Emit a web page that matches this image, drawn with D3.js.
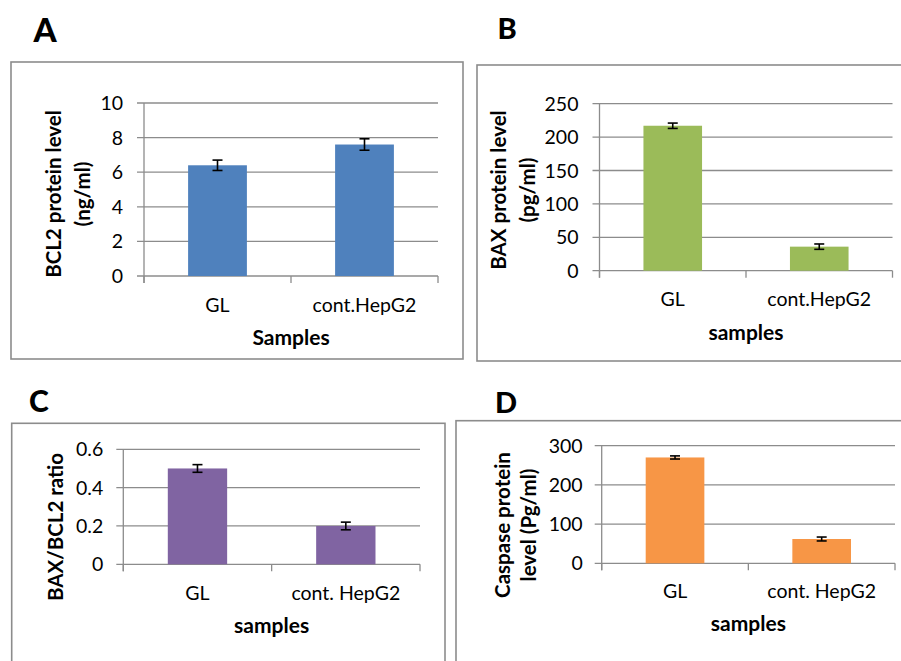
<!DOCTYPE html>
<html>
<head>
<meta charset="utf-8">
<script src="https://cdn.jsdelivr.net/npm/d3@7"></script>
<style>
  html, body { margin: 0; padding: 0; background: #fff; }
  svg { display: block; font-family: Lato, "Open Sans", sans-serif; }
</style>
</head>
<body>
<svg id="chart" width="901" height="661"></svg>
<script>
// ---- data ----
const categoriesAB = ["GL", "cont.HepG2"];
const categoriesCD = ["GL", "cont. HepG2"];

const bcl2Values = [6.4, 7.6];
const bcl2Errors = [0.3, 0.33];
const bcl2Ticks = [0, 2, 4, 6, 8, 10];

const baxValues = [217, 36];
const baxErrors = [4, 4];
const baxTicks = [0, 50, 100, 150, 200, 250];

const ratioValues = [0.5, 0.2];
const ratioErrors = [0.02, 0.02];
const ratioTicks = [0, 0.2, 0.4, 0.6];
const ratioTickLabels = ["0", "0.2", "0.4", "0.6"];

const caspaseValues = [270, 62];
const caspaseErrors = [4, 5];
const caspaseTicks = [0, 100, 200, 300];

// ---- layout / drawing ----
const svg = d3.select("#chart");
const GRID = "#8c8c8c";
const TICK_FS = 19.5, CAT_FS = 19.5, XT_FS = 21, YT_FS = 20.5;

function panel(cfg) {
  const g = svg.append("g");
  g.append("rect")
    .attr("x", cfg.frame[0]).attr("y", cfg.frame[1])
    .attr("width", cfg.frame[2]).attr("height", cfg.frame[3])
    .attr("fill", "none").attr("stroke", GRID).attr("stroke-width", 1.6);

  g.append("text").text(cfg.letter)
    .attr("x", cfg.letterPos[0]).attr("y", cfg.letterPos[1])
    .attr("text-anchor", "middle").attr("font-weight", 900)
    .attr("font-size", cfg.letterSize).attr("fill", "#000");

  const x = d3.scaleBand().domain(cfg.categories)
    .range([cfg.x0, cfg.x1]).paddingInner(0.6).paddingOuter(0.3);
  const y = d3.scaleLinear().domain([0, cfg.ticks[cfg.ticks.length - 1]])
    .range([cfg.yBot, cfg.yTop]);

  g.selectAll("line.grid").data(cfg.ticks).enter().append("line")
    .attr("x1", cfg.x0 - 7).attr("x2", cfg.x1)
    .attr("y1", d => y(d)).attr("y2", d => y(d))
    .attr("stroke", GRID).attr("stroke-width", 1.3);

  g.selectAll("text.ytick").data(cfg.ticks).enter().append("text")
    .attr("x", cfg.x0 - cfg.labelGap).attr("y", d => y(d))
    .attr("dy", "0.36em").attr("text-anchor", "end")
    .attr("font-size", TICK_FS).attr("fill", "#000")
    .text((d, i) => cfg.tickLabels ? cfg.tickLabels[i] : d);

  g.append("line").attr("x1", cfg.x0).attr("x2", cfg.x0)
    .attr("y1", cfg.yTop).attr("y2", cfg.yBot + 7)
    .attr("stroke", GRID).attr("stroke-width", 1.3);

  const bounds = [cfg.x0, cfg.x0 + (cfg.x1 - cfg.x0) / 2, cfg.x1];
  g.selectAll("line.xtick").data(bounds).enter().append("line")
    .attr("x1", d => d).attr("x2", d => d)
    .attr("y1", cfg.yBot).attr("y2", cfg.yBot + 7)
    .attr("stroke", GRID).attr("stroke-width", 1.3);

  const data = cfg.categories.map((c, i) => ({ c, v: cfg.values[i], e: cfg.errors[i] }));

  g.selectAll("rect.bar").data(data).enter().append("rect")
    .attr("x", d => x(d.c)).attr("width", x.bandwidth())
    .attr("y", d => y(d.v)).attr("height", d => y(0) - y(d.v))
    .attr("fill", cfg.color);

  const eb = g.selectAll("g.err").data(data).enter().append("g")
    .attr("stroke", "#000").attr("stroke-width", 1.6);
  const cx = d => x(d.c) + x.bandwidth() / 2;
  eb.append("line").attr("x1", cx).attr("x2", cx)
    .attr("y1", d => y(d.v + d.e)).attr("y2", d => y(d.v - d.e));
  eb.append("line").attr("x1", d => cx(d) - 5).attr("x2", d => cx(d) + 5)
    .attr("y1", d => y(d.v + d.e)).attr("y2", d => y(d.v + d.e));
  eb.append("line").attr("x1", d => cx(d) - 5).attr("x2", d => cx(d) + 5)
    .attr("y1", d => y(d.v - d.e)).attr("y2", d => y(d.v - d.e));

  g.selectAll("text.cat").data(data).enter().append("text")
    .attr("x", cx).attr("y", cfg.yBot + cfg.catOffset)
    .attr("text-anchor", "middle").attr("font-size", CAT_FS).attr("fill", "#000")
    .text(d => d.c);

  g.append("text").text(cfg.xTitle)
    .attr("x", (cfg.x0 + cfg.x1) / 2).attr("y", cfg.yBot + cfg.titleOffset)
    .attr("text-anchor", "middle").attr("font-size", XT_FS).attr("font-weight", 700)
    .attr("fill", "#000");

  cfg.yTitle.forEach((line, i) => {
    g.append("text").text(line)
      .attr("transform", `translate(${cfg.yTitleX[i]},${cfg.yTitleY}) rotate(-90)`)
      .attr("text-anchor", "middle").attr("dominant-baseline", "central")
      .attr("font-size", YT_FS).attr("font-weight", 700).attr("fill", "#000");
  });
}

panel({
  letter: "A", letterPos: [45, 42], letterSize: 33,
  frame: [11, 62, 452, 297],
  x0: 144, x1: 438, yTop: 103, yBot: 276, labelGap: 21,
  categories: categoriesAB, values: bcl2Values, errors: bcl2Errors,
  ticks: bcl2Ticks, color: "#4f81bd",
  catOffset: 36, titleOffset: 69, xTitle: "Samples",
  yTitle: ["BCL2 protein level", "(ng/ml)"], yTitleX: [53, 82], yTitleY: 194
});

panel({
  letter: "B", letterPos: [507, 39], letterSize: 29,
  frame: [477, 65, 430, 296],
  x0: 599.5, x1: 892.5, yTop: 103.7, yBot: 270.7, labelGap: 21,
  categories: categoriesAB, values: baxValues, errors: baxErrors,
  ticks: baxTicks, color: "#9bbb59",
  catOffset: 35, titleOffset: 69, xTitle: "samples",
  yTitle: ["BAX protein level", "(pg/ml)"], yTitleX: [498, 527], yTitleY: 190
});

panel({
  letter: "C", letterPos: [39, 412], letterSize: 30,
  frame: [11.7, 423.3, 433.3, 260],
  x0: 123.3, x1: 420, yTop: 449.3, yBot: 564.3, labelGap: 20,
  categories: categoriesCD, values: ratioValues, errors: ratioErrors,
  ticks: ratioTicks, tickLabels: ratioTickLabels, color: "#8064a2",
  catOffset: 36, titleOffset: 69, xTitle: "samples",
  yTitle: ["BAX/BCL2 ratio"], yTitleX: [55], yTitleY: 527
});

panel({
  letter: "D", letterPos: [506, 413], letterSize: 29,
  frame: [456, 420.7, 460, 260],
  x0: 601.7, x1: 895, yTop: 445.7, yBot: 563.3, labelGap: 19,
  categories: categoriesCD, values: caspaseValues, errors: caspaseErrors,
  ticks: caspaseTicks, color: "#f79646",
  catOffset: 35, titleOffset: 68, xTitle: "samples",
  yTitle: ["Caspase protein", "level (Pg/ml)"], yTitleX: [502, 528], yTitleY: 525
});
</script>
</body>
</html>
